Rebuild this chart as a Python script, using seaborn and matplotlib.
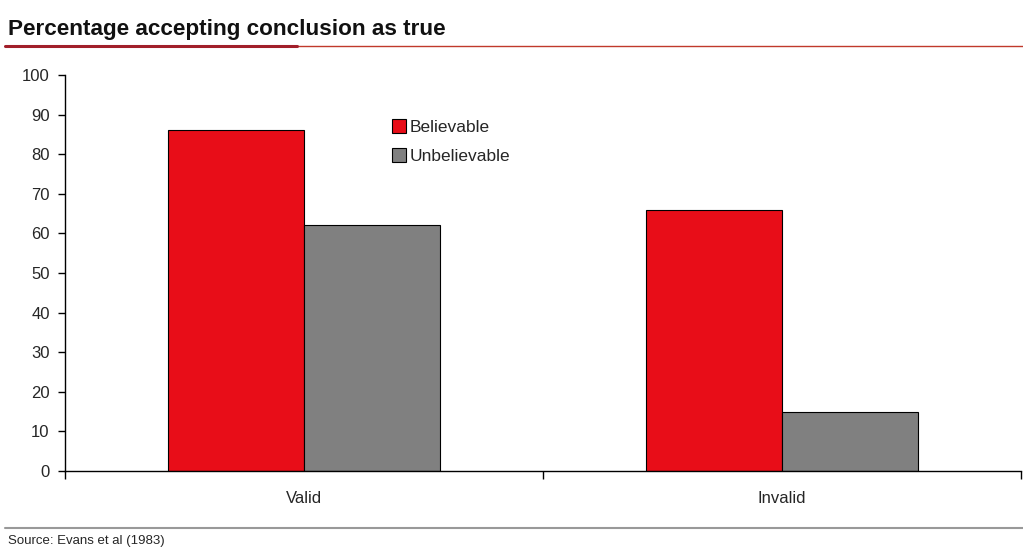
import pandas as pd
import matplotlib.pyplot as plt
import seaborn as sns
from matplotlib.lines import Line2D

# Datos
conditions = ["Valid", "Invalid"]
series = ["Believable", "Unbelievable"]
believable = [86, 66]
unbelievable = [62, 15]
colors = ["#E80D18", "#808080"]

df = pd.DataFrame({
    "Condition": conditions * 2,
    "Type": [series[0]] * 2 + [series[1]] * 2,
    "Value": believable + unbelievable,
})

sns.set_style("white")
plt.rcParams["font.family"] = ["Liberation Sans", "DejaVu Sans"]

fig = plt.figure(figsize=(10.23, 5.48), dpi=100)
ax = fig.add_axes([0.0635, 0.1405, 0.9345, 0.7226])

sns.barplot(data=df, x="Condition", y="Value", hue="Type",
            palette=colors, saturation=1, width=0.57, gap=0,
            edgecolor="black", linewidth=0.8, ax=ax, legend=False)

ax.set_ylim(0, 100)
ax.set_xlim(-0.5, 1.5)
ax.set_yticks(range(0, 101, 10))
ax.set_xlabel("")
ax.set_ylabel("")
ax.set_xticks([0, 1])
ax.set_xticklabels(conditions)
ax.set_xticks([-0.5, 0.5, 1.5], minor=True)
ax.tick_params(axis="x", which="major", bottom=False, pad=11, labelsize=12)
ax.tick_params(axis="x", which="minor", bottom=True, length=6, width=1,
               direction="out", color="black")
ax.tick_params(axis="y", left=True, length=5, width=1, direction="out",
               labelsize=12, pad=6, color="black")
sns.despine(ax=ax)
for s in ["left", "bottom"]:
    ax.spines[s].set_color("black")
    ax.spines[s].set_linewidth(1)

# Leyenda
handles = [Line2D([], [], marker="s", linestyle="", markersize=10,
                  markerfacecolor=c, markeredgecolor="black", markeredgewidth=0.8)
           for c in colors]
fig.legend(handles, series, loc="upper left", bbox_to_anchor=(0.366, 0.81),
           frameon=False, fontsize=12.5, handletextpad=0.1, labelspacing=0.8,
           handlelength=1)

# Título y líneas decorativas
fig.text(0.008, 0.947, "Percentage accepting conclusion as true",
         fontsize=16.2, fontweight="bold", va="center", ha="left",
         color="#111111")
fig.add_artist(Line2D([0.005, 1.0], [0.916, 0.916], color="#C0392B",
                      linewidth=1, transform=fig.transFigure))
fig.add_artist(Line2D([0.005, 0.29], [0.916, 0.916], color="#A11F2A",
                      linewidth=2.2, transform=fig.transFigure))
fig.add_artist(Line2D([0.005, 1.0], [0.036, 0.036], color="#999999",
                      linewidth=1.5, transform=fig.transFigure))
fig.text(0.008, 0.012, "Source: Evans et al (1983)", fontsize=9.5,
         va="center", ha="left")

fig.savefig("out.png", dpi=100)
